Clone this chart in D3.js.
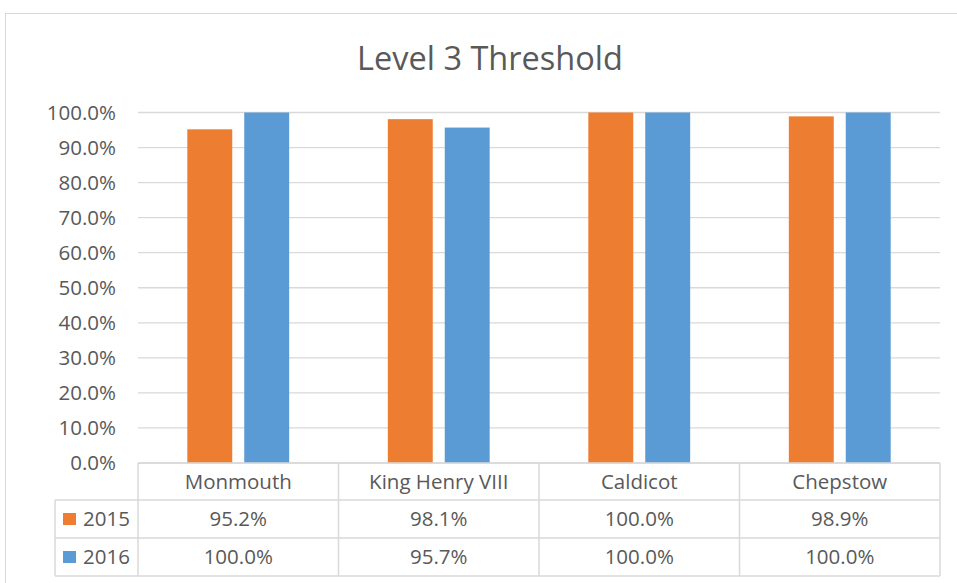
<!DOCTYPE html>
<html lang="en">
<head>
  <meta charset="UTF-8">
  <title>Level 3 Threshold</title>
  <style>
    body { margin: 0; background: #fff; }
    svg text { font-family: 'Open Sans', Arial, sans-serif; fill: #595959; }
  </style>
</head>
<body>
  <div id="chart"></div>
<script src="https://d3js.org/d3.v7.min.js"></script>
<script>
    // data
    var categories = ["Monmouth", "King Henry VIII", "Caldicot", "Chepstow"];
    var series = ["2015", "2016"];
    var values2015 = [95.2, 98.1, 100.0, 98.9];
    var values2016 = [100.0, 95.7, 100.0, 100.0];
    var yTicks = [0, 10, 20, 30, 40, 50, 60, 70, 80, 90, 100];
    var colors = ["#ED7D31", "#5B9BD5"];

    var values = [values2015, values2016];

    var W = 957, H = 583;
    var plotLeft = 138, plotRight = 940, plotTop = 112.5, plotBottom = 463;
    var rowTops = [463, 500, 538, 576];
    var gridColor = "#D9D9D9";
    var fontSize = "20.5px";

    var svg = d3.select("#chart")
      .append("svg")
      .attr("width", W)
      .attr("height", H);

    // chart border
    svg.append("rect")
      .attr("x", 5.5).attr("y", 13.5)
      .attr("width", W + 10).attr("height", H + 10)
      .attr("fill", "#fff")
      .attr("stroke", gridColor);

    svg.append("text")
      .attr("x", 490).attr("y", 70)
      .attr("text-anchor", "middle")
      .style("font-size", "32.5px")
      .text("Level 3 Threshold");

    var x = d3.scaleBand()
      .domain(categories)
      .range([plotLeft, plotRight]);

    var xs = d3.scaleBand()
      .domain(series)
      .range([x.bandwidth() * 0.246, x.bandwidth() * 0.754])
      .paddingInner(12 / 57);

    var y = d3.scaleLinear()
      .domain([0, 100])
      .range([plotBottom, plotTop]);

    // gridlines
    svg.append("g")
      .selectAll("line")
      .data(yTicks)
      .join("line")
      .attr("x1", plotLeft).attr("x2", plotRight)
      .attr("y1", d => y(d)).attr("y2", d => y(d))
      .attr("stroke", gridColor)
      .attr("stroke-width", 1.3);

    // y axis labels
    var yAxis = svg.append("g")
      .attr("transform", "translate(" + (plotLeft - 16) + ",0)")
      .call(d3.axisLeft(y).tickValues(yTicks).tickSize(0).tickPadding(6)
        .tickFormat(d => d.toFixed(1) + "%"));
    yAxis.select(".domain").remove();
    yAxis.selectAll("text")
      .style("font-size", fontSize)
      .attr("fill", "#595959")
      .attr("font-family", "'Open Sans', Arial, sans-serif");

    // bars
    series.forEach(function (s, si) {
      svg.append("g")
        .selectAll("rect")
        .data(categories)
        .join("rect")
        .attr("x", (c) => x(c) + xs(s))
        .attr("width", xs.bandwidth())
        .attr("y", (c, i) => y(values[si][i]))
        .attr("height", (c, i) => y(0) - y(values[si][i]))
        .attr("fill", colors[si]);
    });

    // data table
    var table = svg.append("g");
    var tableLeft = 55;

    // horizontal lines
    table.append("line")
      .attr("x1", plotLeft).attr("x2", plotRight)
      .attr("y1", rowTops[0]).attr("y2", rowTops[0])
      .attr("stroke", gridColor).attr("stroke-width", 1.5);
    rowTops.slice(1).forEach(function (ry) {
      table.append("line")
        .attr("x1", tableLeft).attr("x2", plotRight)
        .attr("y1", ry).attr("y2", ry)
        .attr("stroke", gridColor).attr("stroke-width", 1.5);
    });

    // vertical lines
    categories.forEach(function (c) {
      table.append("line")
        .attr("x1", x(c)).attr("x2", x(c))
        .attr("y1", rowTops[0]).attr("y2", rowTops[3])
        .attr("stroke", gridColor).attr("stroke-width", 1.5);
    });
    table.append("line")
      .attr("x1", plotRight).attr("x2", plotRight)
      .attr("y1", rowTops[0]).attr("y2", rowTops[3])
      .attr("stroke", gridColor).attr("stroke-width", 1.5);
    table.append("line")
      .attr("x1", tableLeft).attr("x2", tableLeft)
      .attr("y1", rowTops[1]).attr("y2", rowTops[3])
      .attr("stroke", gridColor).attr("stroke-width", 1.5);

    // header
    table.selectAll(".cat")
      .data(categories)
      .join("text")
      .attr("class", "cat")
      .attr("x", c => x(c) + x.bandwidth() / 2)
      .attr("y", (rowTops[0] + rowTops[1]) / 2)
      .attr("dy", "0.35em")
      .attr("text-anchor", "middle")
      .style("font-size", fontSize)
      .text(c => c);

    // series rows
    series.forEach(function (s, si) {
      var cy = (rowTops[si + 1] + rowTops[si + 2]) / 2;
      table.append("rect")
        .attr("x", 63).attr("y", cy - 6)
        .attr("width", 13).attr("height", 12)
        .attr("fill", colors[si]);
      table.append("text")
        .attr("x", 83).attr("y", cy)
        .attr("dy", "0.35em")
        .style("font-size", fontSize)
        .text(s);
      table.append("g")
        .selectAll("text")
        .data(categories)
        .join("text")
        .attr("x", c => x(c) + x.bandwidth() / 2)
        .attr("y", cy)
        .attr("dy", "0.35em")
        .attr("text-anchor", "middle")
        .style("font-size", fontSize)
        .text((c, i) => values[si][i].toFixed(1) + "%");
    });
</script>
</body>
</html>
